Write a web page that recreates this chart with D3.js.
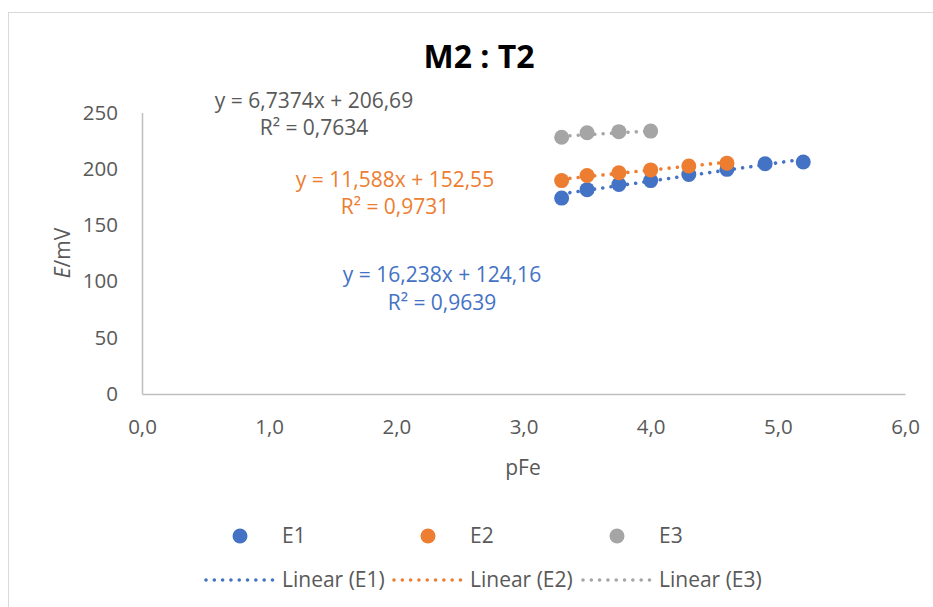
<!DOCTYPE html>
<html>
<head>
<meta charset="utf-8">
<script src="https://cdn.jsdelivr.net/npm/d3@7"></script>
<style>
  html, body { margin: 0; padding: 0; background: #fff; }
  svg { display: block; font-family: "Open Sans", sans-serif; }
</style>
</head>
<body>
<svg id="chart" width="933" height="607"></svg>
<script>
// ---- data ----
const seriesNames = ["E1", "E2", "E3"];
const e1X = [3.30, 3.50, 3.75, 4.00, 4.30, 4.60, 4.90, 5.20];
const e1Y = [174, 181.5, 186, 189.5, 195, 199.5, 204.5, 206];
const e2X = [3.30, 3.50, 3.75, 4.00, 4.30, 4.60];
const e2Y = [189.5, 194, 196.5, 199, 202.5, 205];
const e3X = [3.30, 3.50, 3.75, 4.00];
const e3Y = [228, 232, 233, 233.5];
const slopes = [16.238, 11.588, 6.7374];
const intercepts = [124.16, 152.55, 206.69];
const eqLabels = ["y = 16,238x + 124,16", "y = 11,588x + 152,55", "y = 6,7374x + 206,69"];
const r2Labels = ["R² = 0,9639", "R² = 0,9731", "R² = 0,7634"];
const xTicks = [0, 1, 2, 3, 4, 5, 6];
const yTicks = [0, 50, 100, 150, 200, 250];
const titleText = "M2 : T2";

const colors = ["#4472c4", "#ed7d31", "#a5a5a5"];
const eqColors = ["#4472c4", "#ed7d31", "#595959"];

const svg = d3.select("#chart");
const W = 933, H = 607;

// chart border
svg.append("rect").attr("x", 8.5).attr("y", 12.5).attr("width", W).attr("height", H)
  .attr("fill", "#fff").attr("stroke", "#d9d9d9").attr("stroke-width", 1);

const x = d3.scaleLinear().domain([0, 6]).range([142, 905]);
const y = d3.scaleLinear().domain([0, 250]).range([394, 112.5]);

// axes
const fmt = d => d3.format(".1f")(d).replace(".", ",");
const xAxis = svg.append("g").attr("transform", `translate(0,${y(0)})`)
  .call(d3.axisBottom(x).tickValues(xTicks).tickFormat(fmt).tickSize(0).tickPadding(25));
const yAxis = svg.append("g").attr("transform", `translate(${x(0)},0)`)
  .call(d3.axisLeft(y).tickValues(yTicks).tickSize(0).tickPadding(24));
[xAxis, yAxis].forEach(g => {
  g.select(".domain").attr("stroke", "#bfbfbf").attr("stroke-width", 1.5);
  g.selectAll("text").attr("fill", "#595959").style("font-size", "20.5px")
    .style("font-family", "'Open Sans', sans-serif");
});

// title
svg.append("text").attr("x", 479).attr("y", 68).attr("text-anchor", "middle")
  .style("font-size", "32px").style("font-weight", "bold").attr("fill", "#000")
  .text(titleText);

// axis titles
svg.append("text").attr("x", 523).attr("y", 475).attr("text-anchor", "middle")
  .style("font-size", "21px").attr("fill", "#595959").text("pFe");
const yt = svg.append("text").attr("transform", `translate(70,253) rotate(-90)`)
  .attr("text-anchor", "middle").style("font-size", "21px").attr("fill", "#595959");
yt.append("tspan").style("font-style", "italic").text("E");
yt.append("tspan").text("/mV");

const series = [
  { xs: e1X, ys: e1Y },
  { xs: e2X, ys: e2Y },
  { xs: e3X, ys: e3Y }
];

// trend lines (behind markers)
series.forEach((s, i) => {
  const x0 = d3.min(s.xs), x1 = d3.max(s.xs);
  svg.append("line")
    .attr("x1", x(x0)).attr("y1", y(slopes[i] * x0 + intercepts[i]))
    .attr("x2", x(x1)).attr("y2", y(slopes[i] * x1 + intercepts[i]))
    .attr("stroke", colors[i]).attr("stroke-width", 3.6)
    .attr("stroke-linecap", "round").attr("stroke-dasharray", "0.01 8.3");
});

// markers
series.forEach((s, i) => {
  svg.append("g").selectAll("circle").data(s.xs.map((d, k) => [d, s.ys[k]]))
    .join("circle").attr("cx", d => x(d[0])).attr("cy", d => y(d[1]))
    .attr("r", 7.5).attr("fill", colors[i]);
});

// equation labels
const eqPos = [
  { cx: 442, y1: 282, y2: 310 },
  { cx: 395, y1: 187, y2: 214 },
  { cx: 314, y1: 108, y2: 135 }
];
eqPos.forEach((p, i) => {
  svg.append("text").attr("x", p.cx).attr("y", p.y1).attr("text-anchor", "middle")
    .style("font-size", "21px").attr("fill", eqColors[i]).text(eqLabels[i]);
  svg.append("text").attr("x", p.cx).attr("y", p.y2).attr("text-anchor", "middle")
    .style("font-size", "21px").attr("fill", eqColors[i]).text(r2Labels[i]);
});

// legend row 1 (markers)
const leg1 = [{ mx: 240, tx: 282 }, { mx: 428, tx: 470 }, { mx: 617, tx: 659 }];
leg1.forEach((p, i) => {
  svg.append("circle").attr("cx", p.mx).attr("cy", 536).attr("r", 7.5).attr("fill", colors[i]);
  svg.append("text").attr("x", p.tx).attr("y", 543).style("font-size", "21px")
    .attr("fill", "#595959").text(seriesNames[i]);
});
// legend row 2 (trend lines)
const leg2 = [{ lx: 206, tx: 282 }, { lx: 394, tx: 470 }, { lx: 583, tx: 659 }];
leg2.forEach((p, i) => {
  svg.append("line").attr("x1", p.lx).attr("x2", p.lx + 67).attr("y1", 580).attr("y2", 580)
    .attr("stroke", colors[i]).attr("stroke-width", 3.6).attr("stroke-linecap", "round")
    .attr("stroke-dasharray", "0.01 8.3");
  svg.append("text").attr("x", p.tx).attr("y", 587).style("font-size", "21px")
    .attr("fill", "#595959").text(`Linear (${seriesNames[i]})`);
});
</script>
</body>
</html>
